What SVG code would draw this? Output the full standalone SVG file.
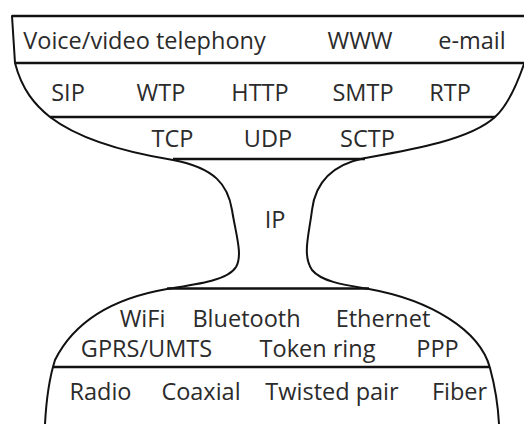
<svg xmlns="http://www.w3.org/2000/svg" width="524" height="424" viewBox="0 0 524 424">
  <style>
    .outline { fill: none; stroke: #111; stroke-width: 2; stroke-linejoin: round; stroke-linecap: round; }
    .rule { stroke: #111; stroke-width: 2.5; }
    text { font-family: "Open Sans", "Noto Sans", "DejaVu Sans", sans-serif; font-size: 23.5px; fill: #2b2b2b; text-anchor: middle; }
  </style>
  <rect width="524" height="424" fill="#fff"/>

  <!-- hourglass outline and layer dividers -->
  <g id="connectors">
    <line class="rule" x1="12" y1="16" x2="524" y2="16"/>
    <path class="outline" d="M12,16 L15,63 C22,90 35,105 50,117 C80,140 130,153 173,160 C215,168 228,185 232,210 C236,235 243,255 236,267 C228,280 200,284 167,289 C115,298 75,320 55,360 C48,382 46,405 45,424"/>
    <path class="outline" d="M524,64 C515,90 505,108 495,117 C470,140 410,150 365,158 C330,165 315,185 312,210 C309,235 302,255 312,270 C322,282 345,285 369,289 C430,300 480,330 490,368 C496,390 498,405 499,424"/>
    <line class="rule" x1="15" y1="63" x2="524" y2="63"/>
    <line class="rule" x1="50" y1="117" x2="495" y2="117"/>
    <line class="rule" x1="173" y1="159" x2="365" y2="159"/>
    <line class="rule" x1="167" y1="288.5" x2="369" y2="288.5"/>
    <line class="rule" x1="53" y1="367" x2="489" y2="367"/>
  </g>

  <g id="applications">
    <text x="144.5" y="48.5">Voice/video telephony</text>
    <text x="360" y="48.5">WWW</text>
    <text x="472" y="48.5">e-mail</text>
  </g>

  <g id="application-protocols">
    <text x="68" y="100.5">SIP</text>
    <text x="161" y="100.5">WTP</text>
    <text x="260" y="100.5">HTTP</text>
    <text x="363" y="100.5">SMTP</text>
    <text x="450" y="100.5">RTP</text>
  </g>

  <g id="transport">
    <text x="172.5" y="147">TCP</text>
    <text x="268" y="147">UDP</text>
    <text x="367.5" y="147">SCTP</text>
  </g>

  <g id="network">
    <text x="275" y="228">IP</text>
  </g>

  <g id="link">
    <text x="142.5" y="327">WiFi</text>
    <text x="246.5" y="327">Bluetooth</text>
    <text x="383" y="327">Ethernet</text>
    <text x="146.5" y="357">GPRS/UMTS</text>
    <text x="317.5" y="357">Token ring</text>
    <text x="437.5" y="357">PPP</text>
  </g>

  <g id="physical">
    <text x="100.5" y="400">Radio</text>
    <text x="201" y="400">Coaxial</text>
    <text x="332" y="400">Twisted pair</text>
    <text x="459.5" y="400">Fiber</text>
  </g>
</svg>
